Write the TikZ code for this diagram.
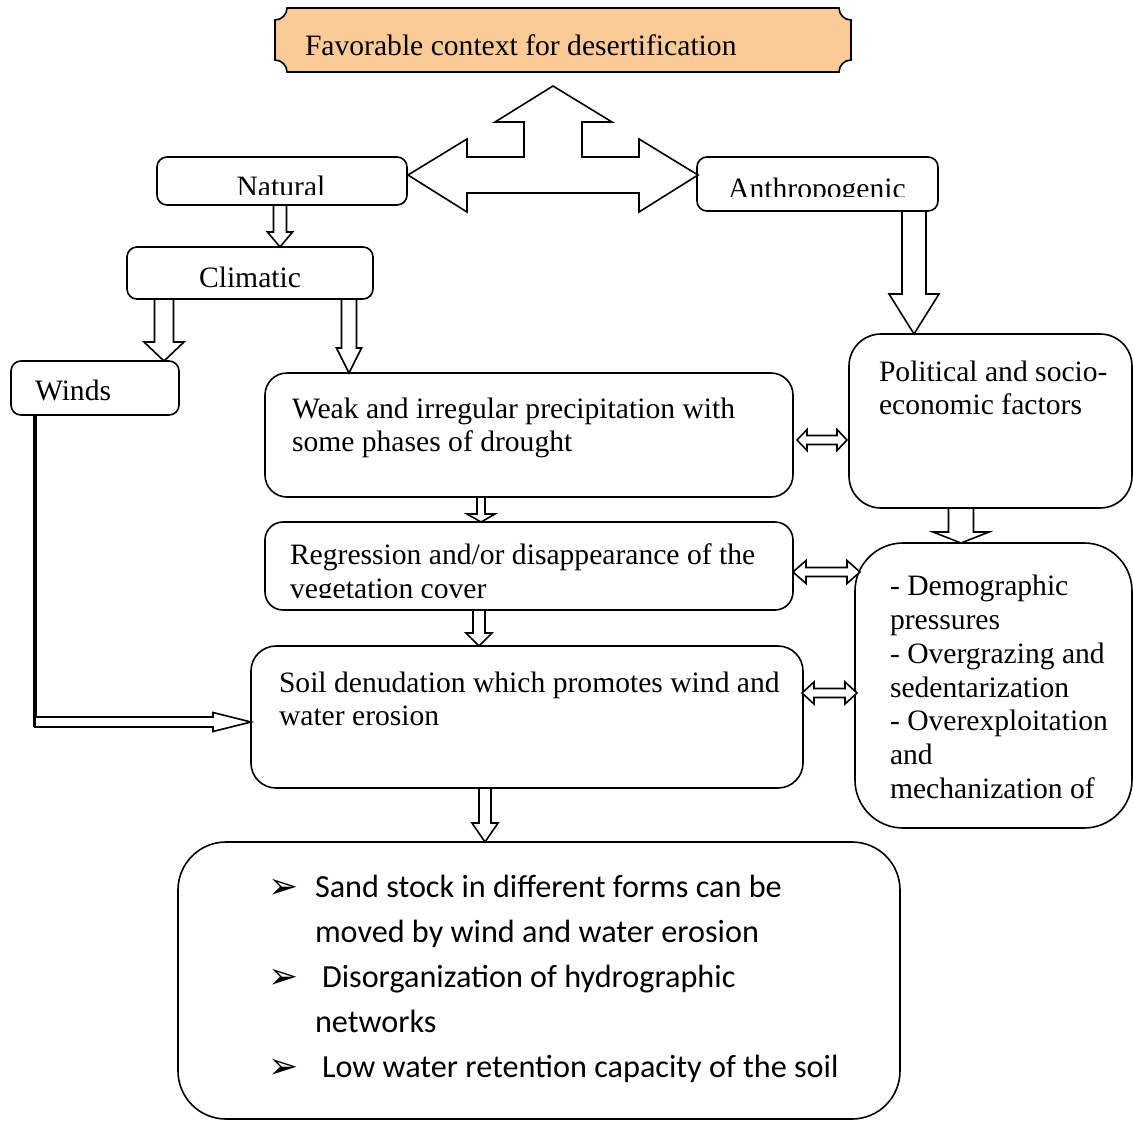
\documentclass[tikz,border=0pt]{standalone}
\usepackage{fontspec}
\setmainfont{Liberation Serif}
\newfontfamily\calfont{Carlito}
\newfontfamily\dvfont{DejaVu Sans}
\usetikzlibrary{calc}
\definecolor{peach}{RGB}{251,203,151}
\tikzset{
 box/.style={draw, line width=1.6pt, inner sep=0pt, outer sep=0pt, anchor=north west},
 blk/.style={draw, line width=1.6pt, fill=white, line join=miter},
 txt/.style={inner sep=0pt, outer sep=0pt, font=\fontsize{29.6}{34}\selectfont, anchor=base west},
 ctxt/.style={inner sep=0pt, outer sep=0pt, font=\calfont\fontsize{32.2}{38}\selectfont, anchor=base west},
 bul/.style={inner sep=0pt, outer sep=0pt, font=\dvfont\fontsize{36}{40}\selectfont, anchor=base west},
}
\newcommand{\mkbox}[6]{\node[box, rounded corners=#6, minimum width={#4-#2}, minimum height={#5-#3}] (#1) at (#2,#3) {};}
\newcommand{\blkdown}[5]{\draw[blk] let \p1=#1, \p2=#2 in (\x1-#3pt,\y1) -- (\x1-#3pt,\y2+#5pt) -- (\x1-#4pt,\y2+#5pt) -- (\x1,\y2) -- (\x1+#4pt,\y2+#5pt) -- (\x1+#3pt,\y2+#5pt) -- (\x1+#3pt,\y1) -- cycle;}
\newcommand{\blkdouble}[5]{\draw[blk] let \p1=#1, \p2=#2 in (\x1,\y1) -- (\x1+#5pt,\y1+#4pt) -- (\x1+#5pt,\y1+#3pt) -- (\x2-#5pt,\y1+#3pt) -- (\x2-#5pt,\y1+#4pt) -- (\x2,\y1) -- (\x2-#5pt,\y1-#4pt) -- (\x2-#5pt,\y1-#3pt) -- (\x1+#5pt,\y1-#3pt) -- (\x1+#5pt,\y1-#4pt) -- cycle;}
\newcommand{\blkright}[5]{\draw[blk] let \p1=#1, \p2=#2 in (\x1,\y1+#3pt) -- (\x2-#5pt,\y1+#3pt) -- (\x2-#5pt,\y1+#4pt) -- (\x2,\y1) -- (\x2-#5pt,\y1-#4pt) -- (\x2-#5pt,\y1-#3pt) -- (\x1,\y1-#3pt) -- cycle;}
\begin{document}
\begin{tikzpicture}[x=1pt,y=-1pt]
\useasboundingbox[fill=white] (0,0) rectangle (1133,1122);

% banner
\node[inner sep=0pt, outer sep=0pt, minimum width=576, minimum height=64, anchor=north west] (banner) at (275,8) {};
\draw[line width=1.6pt, fill=peach] (275,20) .. controls (281.6,20) and (287,14.6) .. (287,8) -- (839,8) .. controls (839,14.6) and (844.4,20) .. (851,20) -- (851,60) .. controls (844.4,60) and (839,65.4) .. (839,72) -- (287,72) .. controls (287,65.4) and (281.6,60) .. (275,60) -- cycle;
\node[txt] (bannertext) at (305,55) {Favorable context for desertification};

% boxes
\mkbox{natural}{157}{157}{407}{205}{10}
\mkbox{anthro}{697}{157}{938}{211}{10}
\mkbox{climatic}{127}{247}{373}{299}{10}
\mkbox{winds}{11}{361}{179}{415}{10}
\mkbox{weak}{265}{373}{793}{497}{22}
\mkbox{regr}{265}{522}{793}{610}{18}
\mkbox{soil}{251}{646}{803}{788}{25}
\mkbox{bottom}{178}{842}{900}{1119}{48}
\mkbox{political}{849}{334}{1132}{508}{32}
\mkbox{demo}{855}{543}{1132}{828}{48}

% three-way arrow
\draw[blk] (553,86) -- (612,122) -- (582,122) -- (582,157) -- (639,157) -- (639,139) -- (698,175) -- (639,212) -- (639,193) -- (467,193) -- (467,212) -- (408,175) -- (467,139) -- (467,157) -- (524,157) -- (524,122) -- (495,122) -- cycle;

% texts
\begin{scope}
\clip (157,157) rectangle (407,194);
\node[txt, anchor=base] (naturaltext) at (281,196) {Natural};
\end{scope}
\begin{scope}
\clip (697,157) rectangle (938,196);
\node[txt, anchor=base] (anthrotext) at (817,198) {Anthropogenic};
\end{scope}
\node[txt, anchor=base] (climatictext) at (250,287) {Climatic};
\node[txt] (windstext) at (35,400) {Winds};
\node[txt] (weak1) at (292,418) {Weak and irregular precipitation with};
\node[txt] (weak2) at (292,451) {some phases of drought};
\node[txt] (regr1) at (290,564) {Regression and/or disappearance of the};
\begin{scope}
\clip (265,570) rectangle (793,597);
\node[txt] (regr2) at (290,598) {vegetation cover};
\end{scope}
\node[txt] (soil1) at (279,692) {Soil denudation which promotes wind and};
\node[txt] (soil2) at (279,725) {water erosion};
\node[txt] (pol1) at (879,381) {Political and socio-};
\node[txt] (pol2) at (879,414) {economic factors};
\node[txt] (demo1) at (890,595) {- Demographic};
\node[txt] (demo2) at (890,629) {pressures};
\node[txt] (demo3) at (890,663) {- Overgrazing and};
\node[txt] (demo4) at (890,697) {sedentarization};
\node[txt] (demo5) at (890,730) {- Overexploitation};
\node[txt] (demo6) at (890,764) {and};
\node[txt] (demo7) at (890,798) {mechanization of};

\node[bul] (b1) at (268,898) {➢};
\node[ctxt] (bt1) at (315,897) {Sand stock in different forms can be};
\node[ctxt] (bt2) at (315,942) {moved by wind and water erosion};
\node[bul] (b2) at (268,988) {➢};
\node[ctxt] (bt3) at (322,987) {Disorganization of hydrographic};
\node[ctxt] (bt4) at (315,1032) {networks};
\node[bul] (b3) at (268,1078) {➢};
\node[ctxt] (bt5) at (322,1077) {Low water retention capacity of the soil};

% vertical block arrows
\blkdown{([xshift=-2pt]natural.south)}{(climatic.north)}{6.5}{12.5}{15}
\blkdown{([xshift=37pt]climatic.south west)}{(winds.north)}{9.5}{20}{19}
\blkdown{([xshift=222pt]climatic.south west)}{(weak.north)}{7.5}{12.5}{25}
\blkdown{([xshift=216pt]weak.south west)}{(regr.north)}{4}{14}{8}
\blkdown{([xshift=214pt]regr.south west)}{(soil.north)}{6}{13}{13}
\blkdown{([xshift=234pt]soil.south west)}{(bottom.north)}{6}{13}{19}
\blkdown{([xshift=217pt]anthro.south west)}{(political.north)}{12}{25}{40}
\blkdown{([xshift=112pt]political.south west)}{(demo.north)}{12.5}{28}{11}

% horizontal double arrows
\blkdouble{([shift={(4pt,-5pt)}]weak.east)}{([xshift=-2pt]political.west)}{4.5}{10.5}{10}
\blkdouble{([yshift=-6pt]regr.east)}{([xshift=5pt]demo.west)}{4.5}{11.5}{13}
\blkdouble{([shift={(-1pt,24pt)}]soil.east)}{([xshift=2pt]demo.west)}{4.5}{11}{12}

% winds connector
\coordinate (wtop) at ([xshift=24pt]winds.south west);
\coordinate (wcorner) at (35,722);
\draw[line width=4.5pt] (wtop) -- ([yshift=-5pt]wtop |- wcorner);
\blkright{(wcorner)}{(soil.west)}{5}{9.5}{38}
\end{tikzpicture}
\end{document}
